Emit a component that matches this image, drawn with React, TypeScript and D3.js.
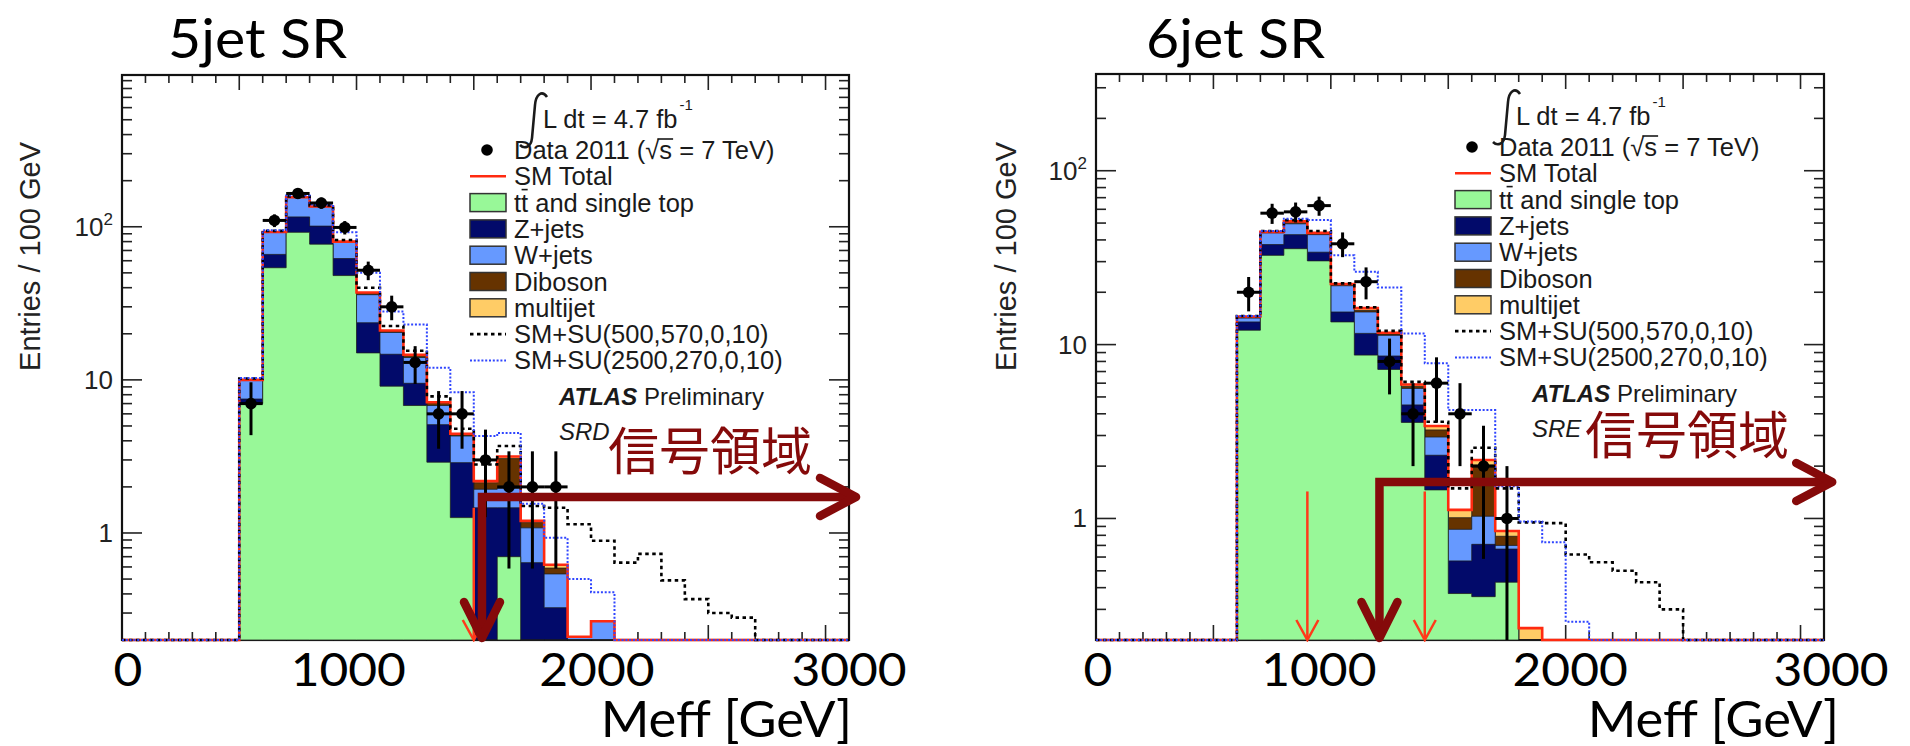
import React from "react";
import * as d3 from "d3";

// ---------------- shared axis content ----------------
const xDomainGeV: [number, number] = [0, 3100];
const binWidthGeV = 100;
const nBins = 31;
const yMinEntries = 0.2;
const yTickValues = [1, 10, 100];
const yTickLabels = ["1", "10", "10^2"];
const slideAxisLabels = ["0", "1000", "2000", "3000"];
const yAxisTitle = "Entries / 100 GeV";
const xAxisTitle = "Meff [GeV]";
const signalRegionText = "信号領域";
const lumiText = "L dt = 4.7 fb";
const legendLabels = [
  "Data 2011",
  "SM Total",
  "tt and single top",
  "Z+jets",
  "W+jets",
  "Diboson",
  "multijet",
  "SM+SU(500,570,0,10)",
  "SM+SU(2500,270,0,10)",
];

// ---------------- 5jet SR (SRD) ----------------
const srdTitle = "5jet SR";
const srdRegion = "SRD";
const srdFirstBinGeV = 500;
const srdTtbar = [7.0, 54, 92, 77, 48, 15, 9.1, 6.8, 2.9, 1.26, 0, 0.7, 0, 0, 0, 0];
const srdZjets = [0.5, 12, 24, 24, 14, 8.6, 5.6, 2.7, 2.2, 1.62, 1.46, 0.76, 0.64, 0.325, 0, 0];
const srdWjets = [2.4, 26, 39, 34, 17, 12.4, 5.7, 4.5, 1.7, 1.42, 0.47, 0.5, 0.44, 0.215, 0.21, 0.265];
const srdDiboson = [0, 0.3, 0.5, 0.4, 0.8, 1.0, 0.5, 0.5, 0.3, 0.1, 0.2, 1.1, 0.09, 0.05, 0, 0];
const srdMultijet = [0.1, 0.2, 0.3, 0.2, 0.2, 0.2, 0.1, 0.1, 0.05, 0.05, 0.05, 0.1, 0.03, 0.03, 0, 0];
const srdData = [7, 110, 165, 143, 99, 52, 30, 13, 6, 6, 3, 2, 2, 2];
const srdSu500 = [10.2, 94, 158, 138, 82, 40, 22.5, 15.5, 7.8, 4.8, 2.8, 3.7, 1.5, 1.46, 1.14, 0.89, 0.64, 0.73, 0.49, 0.37, 0.3, 0.28];
const srdSu2500 = [10.3, 95, 160, 140, 92, 50, 28, 23, 12, 8.3, 4.3, 4.5, 1.55, 0.93, 0.5, 0.41];
const srdCutGeV = [1500];
const srdCutTop = 1.46;
const srdYMax = 980;
const srdSlideLabelGeV = [25, 965, 2025, 3100];
const srdSignalCutGeV = 1535;
const srdSignalLevel = 1.72;
const srdSignalEndGeV = 3130;

// ---------------- 6jet SR (SRE) ----------------
const sreTitle = "6jet SR";
const sreRegion = "SRE";
const sreFirstBinGeV = 600;
const sreTtbar = [12.1, 32.6, 35.6, 30.3, 13.5, 8.7, 7.2, 3.57, 1.46, 0.37, 0.355, 0.43, 0];
const sreZjets = [1.4, 5.0, 7.3, 3.7, 1.9, 2.9, 1.4, 0.93, 0.85, 0.2, 0.355, 0.237, 0];
const sreWjets = [0.7, 6.3, 6.6, 8.9, 6.4, 3.8, 2.7, 1.1, 0.63, 0.296, 0.32, 0.033, 0];
const sreDiboson = [0.1, 0.3, 1.0, 0.4, 0.3, 0.3, 0.2, 0.15, 0.29, 0.144, 1.0, 0.09, 0.02];
const sreMultijet = [0.2, 0.3, 0.6, 0.6, 0.2, 0.5, 0.2, 0.15, 0.17, 0.11, 0.14, 0.057, 0.214];
const sreData = [20, 57, 58, 63, 38, 23, 8, 4, 6, 4, 2, 1];
const sreSu500 = [14.6, 45, 52, 45, 22.5, 16.4, 12, 6.1, 3.6, 1.49, 2.55, 1.49, 0.95, 0.94, 0.62, 0.56, 0.5, 0.43, 0.3];
const sreSu2500 = [14.6, 45, 53, 52, 32.6, 26.2, 21.3, 11.6, 7.8, 4.2, 4.2, 1.53, 0.96, 0.73, 0.255];
const sreCutGeV = [900, 1400];
const sreCutTop = 1.43;
const sreYMax = 360;
const sreSlideLabelGeV = [8, 949, 2019, 3130];
const sreSignalCutGeV = 1207;
const sreSignalLevel = 1.62;
const sreSignalEndGeV = 3135;

// ---------------- styles ----------------
const C = {
  ttbar: "#98f898",
  zjets: "#020a6a",
  wjets: "#6699ff",
  diboson: "#663300",
  multijet: "#ffcc66",
  total: "#ff2a10",
  su500: "#000000",
  su2500: "#2f45ff",
  maroon: "#850a0a",
  cut: "#ff3a1a",
};
const rootFont = "'Liberation Sans', Arial, Helvetica, sans-serif";
const slideFont = "Lato, 'Open Sans', sans-serif";
const cjkFont = "'Noto Sans CJK JP', 'Noto Sans CJK SC', sans-serif";
const legendFontSize = 25.5;

let measureCtx: CanvasRenderingContext2D | null = null;
function textWidth(txt: string, size: number): number {
  if (typeof document !== "undefined") {
    if (!measureCtx) measureCtx = document.createElement("canvas").getContext("2d");
    if (measureCtx) {
      measureCtx.font = `${size}px 'Liberation Sans', Arial, sans-serif`;
      return measureCtx.measureText(txt).width;
    }
  }
  return txt.length * size * 0.55;
}

type PanelCfg = {
  id: string;
  frame: { x0: number; x1: number; y0: number; y1: number };
  yMax: number;
  title: string;
  titlePos: [number, number];
  region: string;
  firstBin: number;
  comps: number[][];
  data: number[];
  su500: number[];
  su2500: number[];
  cuts: number[];
  cutTop: number;
  slideLabelGeV: number[];
  xTitleRight: number;
  yTitlePos: [number, number];
  legend: [number, number];
  lumiAnchor: [number, number];
  cjkPos: [number, number];
  signal: { cut: number; level: number; end: number };
};

const panels: PanelCfg[] = [
  {
    id: "srd",
    frame: { x0: 122, x1: 849, y0: 75, y1: 640 },
    yMax: srdYMax,
    title: srdTitle,
    titlePos: [168, 58],
    region: srdRegion,
    firstBin: srdFirstBinGeV,
    comps: [srdTtbar, srdZjets, srdWjets, srdDiboson, srdMultijet],
    data: srdData,
    su500: srdSu500,
    su2500: srdSu2500,
    cuts: srdCutGeV,
    cutTop: srdCutTop,
    slideLabelGeV: srdSlideLabelGeV,
    xTitleRight: 852,
    yTitlePos: [40, 142],
    legend: [470, 150],
    lumiAnchor: [482, 150],
    cjkPos: [608, 470],
    signal: { cut: srdSignalCutGeV, level: srdSignalLevel, end: srdSignalEndGeV },
  },
  {
    id: "sre",
    frame: { x0: 1096, x1: 1824, y0: 74, y1: 640 },
    yMax: sreYMax,
    title: sreTitle,
    titlePos: [1146, 58],
    region: sreRegion,
    firstBin: sreFirstBinGeV,
    comps: [sreTtbar, sreZjets, sreWjets, sreDiboson, sreMultijet],
    data: sreData,
    su500: sreSu500,
    su2500: sreSu2500,
    cuts: sreCutGeV,
    cutTop: sreCutTop,
    slideLabelGeV: sreSlideLabelGeV,
    xTitleRight: 1839,
    yTitlePos: [1016, 142],
    legend: [1455, 147],
    lumiAnchor: [1455, 147],
    cjkPos: [1585, 454],
    signal: { cut: sreSignalCutGeV, level: sreSignalLevel, end: sreSignalEndGeV },
  },
];

const compColors = [C.ttbar, C.zjets, C.wjets, C.diboson, C.multijet];

function fullRange(first: number, arr: number[]): number[] {
  return d3.range(nBins).map((i) => {
    const k = Math.round((i * binWidthGeV - first) / binWidthGeV);
    return k >= 0 && k < arr.length ? arr[k] : 0;
  });
}

function Panel({ cfg }: { cfg: PanelCfg }) {
  const { frame } = cfg;
  const x = d3.scaleLinear().domain(xDomainGeV).range([frame.x0, frame.x1]);
  const y = d3.scaleLog().domain([yMinEntries, cfg.yMax]).range([frame.y1, frame.y0]).clamp(true);
  const yv = (v: number) => y(Math.max(v, yMinEntries * 0.5));

  const stepPts = (vals: number[]): [number, number][] => [
    ...vals.map((v, i) => [x(i * binWidthGeV), yv(v)] as [number, number]),
    [x(xDomainGeV[1]), yv(vals[vals.length - 1])],
  ];
  const line = d3.line<[number, number]>().curve(d3.curveStepAfter);
  const area = d3
    .area<[number, number]>()
    .curve(d3.curveStepAfter)
    .x((d) => d[0])
    .y0(frame.y1)
    .y1((d) => d[1]);

  const fulls = cfg.comps.map((c) => fullRange(cfg.firstBin, c));
  const cums: number[][] = [];
  fulls.forEach((f, j) => {
    cums.push(f.map((v, i) => v + (j > 0 ? cums[j - 1][i] : 0)));
  });
  const total = cums[cums.length - 1];
  const su500 = fullRange(cfg.firstBin, cfg.su500);
  const su2500 = fullRange(cfg.firstBin, cfg.su2500);

  const xTicks = d3.range(0, xDomainGeV[1] + 1, binWidthGeV);
  const yMinor: number[] = [];
  [0.1, 1, 10, 100, 1000].forEach((dec) => {
    for (let k = 2; k <= 9; k++) {
      const v = k * dec;
      if (v >= yMinEntries && v <= cfg.yMax) yMinor.push(v);
    }
  });

  const clipId = `clip-${cfg.id}`;
  const [lx, ly] = cfg.legend;
  const [ax0, ay0] = cfg.lumiAnchor;
  const rowStep = 26.3;
  const rowY = (i: number) => ly + i * rowStep;
  const textX = lx + 44;

  const sx = x(cfg.signal.cut);
  const sy = yv(cfg.signal.level);
  const ex = x(cfg.signal.end);

  const dataPrefix = `${legendLabels[0]} (√`;
  const sStart = textX + textWidth(dataPrefix, legendFontSize);
  const sW = textWidth("s", legendFontSize);
  const tW = textWidth("t", legendFontSize);

  return (
    <g>
      <defs>
        <clipPath id={clipId}>
          <rect x={frame.x0} y={frame.y0} width={frame.x1 - frame.x0} height={frame.y1 - frame.y0 + 2} />
        </clipPath>
      </defs>

      <text
        transform={`translate(${cfg.titlePos[0]},${cfg.titlePos[1]}) scale(1.06,1)`}
        fontFamily={slideFont}
        fontSize={54}
        fill="#000"
      >
        {cfg.title}
      </text>

      <rect x={frame.x0} y={frame.y0} width={frame.x1 - frame.x0} height={frame.y1 - frame.y0} fill="#fff" />
      <g stroke="#222" strokeWidth={1.6}>
        {xTicks.map((v) => {
          const len = v % 500 === 0 ? 15 : 8;
          return (
            <g key={`xt${v}`}>
              <line x1={x(v)} x2={x(v)} y1={frame.y1} y2={frame.y1 - len} />
              <line x1={x(v)} x2={x(v)} y1={frame.y0} y2={frame.y0 + len} />
            </g>
          );
        })}
        {yTickValues.map((v) => (
          <g key={`yt${v}`}>
            <line x1={frame.x0} x2={frame.x0 + 20} y1={y(v)} y2={y(v)} />
            <line x1={frame.x1} x2={frame.x1 - 20} y1={y(v)} y2={y(v)} />
          </g>
        ))}
        {yMinor.map((v) => (
          <g key={`ym${v}`}>
            <line x1={frame.x0} x2={frame.x0 + 10} y1={y(v)} y2={y(v)} />
            <line x1={frame.x1} x2={frame.x1 - 10} y1={y(v)} y2={y(v)} />
          </g>
        ))}
      </g>
      <rect
        x={frame.x0}
        y={frame.y0}
        width={frame.x1 - frame.x0}
        height={frame.y1 - frame.y0}
        fill="none"
        stroke="#111"
        strokeWidth={2.2}
      />

      <g clipPath={`url(#${clipId})`}>
        {cums
          .map((cum, j) => ({ cum, j }))
          .reverse()
          .map(({ cum, j }) => (
            <path
              key={`stk${j}`}
              d={area(stepPts(cum)) || ""}
              fill={compColors[j]}
              stroke="#1b1b1b"
              strokeOpacity={0.75}
              strokeWidth={1}
            />
          ))}
        <path d={line(stepPts(total)) || ""} fill="none" stroke={C.total} strokeWidth={2.6} />
        <path
          d={line(stepPts(su500)) || ""}
          fill="none"
          stroke={C.su500}
          strokeWidth={2.6}
          strokeDasharray="3.5 3.5"
        />
        <path
          d={line(stepPts(su2500)) || ""}
          fill="none"
          stroke={C.su2500}
          strokeWidth={2}
          strokeDasharray="2 1.8"
        />
        {cfg.data.map((n, i) => {
          const c = cfg.firstBin + i * binWidthGeV + binWidthGeV / 2;
          const cx = x(c);
          const cy = yv(n);
          const e = Math.sqrt(n);
          return (
            <g key={`d${i}`} stroke="#000" strokeWidth={3}>
              <line x1={cx} x2={cx} y1={yv(n + e)} y2={yv(n - e)} />
              <line x1={x(c - binWidthGeV / 2)} x2={x(c + binWidthGeV / 2)} y1={cy} y2={cy} />
              <circle cx={cx} cy={cy} r={5.8} fill="#000" stroke="none" />
            </g>
          );
        })}
        {cfg.cuts.map((g) => {
          const cxp = x(g);
          const top = yv(cfg.cutTop);
          return (
            <g key={`cut${g}`} stroke={C.cut} strokeWidth={2.5} fill="none">
              <line x1={cxp} x2={cxp} y1={top} y2={frame.y1} />
              <path d={`M${cxp - 11},${frame.y1 - 20} L${cxp},${frame.y1} L${cxp + 11},${frame.y1 - 20}`} />
            </g>
          );
        })}
      </g>

      {yTickValues.map((v, i) => {
        const [base, exp] = yTickLabels[i].split("^");
        return (
          <text
            key={`yl${v}`}
            x={frame.x0 - 9}
            y={y(v) + 9}
            textAnchor="end"
            fontFamily={rootFont}
            fontSize={26}
            fill="#222"
          >
            {base}
            {exp && (
              <tspan fontSize={17} dy={-11}>
                {exp}
              </tspan>
            )}
          </text>
        );
      })}

      <text
        transform={`translate(${cfg.yTitlePos[0]},${cfg.yTitlePos[1]}) rotate(-90)`}
        textAnchor="end"
        fontFamily={rootFont}
        fontSize={29}
        fill="#222"
      >
        {yAxisTitle}
      </text>

      <g fontFamily={rootFont} fontSize={legendFontSize} fill="#1a1a1a">
        <path
          d={`M${ax0 + 65},${ay0 - 53} C${ax0 + 60},${ay0 - 60} ${ax0 + 54},${ay0 - 56} ${ax0 + 53},${ay0 - 45} L${ax0 + 50},${ay0 - 12} C${ax0 + 49},${ay0 - 2} ${ax0 + 42},${ay0 - 1} ${ax0 + 38},${ay0 - 5}`}
          fill="none"
          stroke="#1a1a1a"
          strokeWidth={2.6}
        />
        <text x={ax0 + 61} y={ay0 - 22}>
          {lumiText}
        </text>
        <text x={ax0 + 61 + textWidth(lumiText, legendFontSize) + 1} y={ay0 - 40} fontSize={15}>
          -1
        </text>
        <circle cx={lx + 17} cy={rowY(0)} r={5.8} fill="#000" />
        <text x={textX} y={rowY(0) + 9}>
          {dataPrefix}s = 7 TeV)
        </text>
        <line
          x1={sStart - 2}
          x2={sStart + sW + 1}
          y1={rowY(0) - 11}
          y2={rowY(0) - 11}
          stroke="#1a1a1a"
          strokeWidth={1.6}
        />
        <line x1={lx} x2={lx + 36} y1={rowY(1)} y2={rowY(1)} stroke={C.total} strokeWidth={2.5} />
        <text x={textX} y={rowY(1) + 9}>
          {legendLabels[1]}
        </text>
        {compColors.map((col, j) => (
          <g key={`lb${j}`}>
            <rect x={lx} y={rowY(2 + j) - 9} width={36} height={18} fill={col} stroke="#333" strokeWidth={1.5} />
            <text x={textX} y={rowY(2 + j) + 9}>
              {legendLabels[2 + j]}
            </text>
          </g>
        ))}
        <line
          x1={textX + tW + 0.5}
          x2={textX + 2 * tW - 0.5}
          y1={rowY(2) - 13}
          y2={rowY(2) - 13}
          stroke="#1a1a1a"
          strokeWidth={1.6}
        />
        <line
          x1={lx}
          x2={lx + 36}
          y1={rowY(7)}
          y2={rowY(7)}
          stroke={C.su500}
          strokeWidth={2.6}
          strokeDasharray="3.5 3.5"
        />
        <text x={textX} y={rowY(7) + 9}>
          {legendLabels[7]}
        </text>
        <line
          x1={lx}
          x2={lx + 36}
          y1={rowY(8)}
          y2={rowY(8)}
          stroke={C.su2500}
          strokeWidth={2}
          strokeDasharray="2 1.8"
        />
        <text x={textX} y={rowY(8) + 9}>
          {legendLabels[8]}
        </text>
        <text x={ax0 + 77} y={ay0 + 255} fontSize={24}>
          <tspan fontWeight="bold" fontStyle="italic">
            ATLAS
          </tspan>{" "}
          Preliminary
        </text>
        <text x={ax0 + 77} y={ay0 + 290} fontSize={24} fontStyle="italic">
          {cfg.region}
        </text>
      </g>

      {slideAxisLabels.map((lab, i) => (
        <text
          key={`sl${i}`}
          transform={`translate(${x(cfg.slideLabelGeV[i])},686) scale(1.08,1)`}
          textAnchor="middle"
          fontFamily={slideFont}
          fontSize={46}
          fill="#000"
        >
          {lab}
        </text>
      ))}
      <text
        transform={`translate(${cfg.xTitleRight},737) scale(1.05,1)`}
        textAnchor="end"
        fontFamily={slideFont}
        fontSize={50}
        fill="#000"
      >
        {xAxisTitle}
      </text>

      <text x={cfg.cjkPos[0]} y={cfg.cjkPos[1]} fontFamily={cjkFont} fontSize={51} fill={C.maroon}>
        {signalRegionText}
      </text>
      <g stroke={C.maroon} strokeWidth={8.5} fill="none" strokeLinecap="round">
        <path d={`M${ex - 2},${sy} L${sx},${sy} L${sx},${frame.y1 - 3}`} strokeLinejoin="miter" strokeLinecap="butt" />
        <path d={`M${ex - 36},${sy - 19} L${ex},${sy} L${ex - 36},${sy + 19}`} strokeLinejoin="round" />
        <path
          d={`M${sx - 18},${frame.y1 - 38} L${sx},${frame.y1 - 2} L${sx + 18},${frame.y1 - 38}`}
          strokeLinejoin="round"
        />
      </g>
    </g>
  );
}

export default function App() {
  return (
    <svg
      width={1910}
      height={746}
      viewBox="0 0 1910 746"
      style={{ position: "absolute", left: 0, top: 0, background: "#fff" }}
    >
      <rect x={0} y={0} width={1910} height={746} fill="#fff" />
      {panels.map((p) => (
        <Panel key={p.id} cfg={p} />
      ))}
    </svg>
  );
}
